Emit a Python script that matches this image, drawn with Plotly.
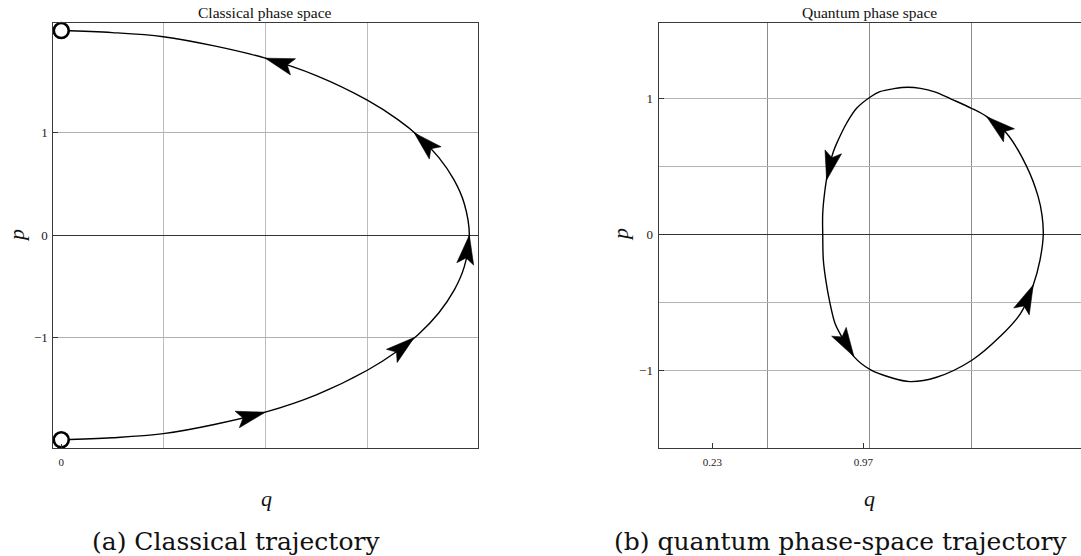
import math
import plotly.graph_objects as go

# ---- Classical trajectory (left panel) ----
classical_q = [0.00, 0.50, 1.00, 1.50, 2.00, 2.50, 3.00, 3.30, 3.50, 3.70, 3.85, 3.95, 4.00,
               3.95, 3.85, 3.70, 3.50, 3.30, 3.00, 2.50, 2.00, 1.50, 1.00, 0.50, 0.00]
classical_p = [-2.00, -1.98, -1.94, -1.85, -1.73, -1.56, -1.32, -1.13, -0.97, -0.76, -0.54, -0.31, 0.00,
               0.31, 0.54, 0.76, 0.97, 1.13, 1.32, 1.56, 1.73, 1.85, 1.94, 1.98, 2.00]

# start / end points of the classical path
endpoint_q = [0.00, 0.00]
endpoint_p = [-2.00, 2.00]

# direction arrows along the classical path (tail -> tip)
classical_arrow_tail_q = [1.73, 3.24, 3.96, 3.67, 2.29]
classical_arrow_tail_p = [-1.80, -1.18, -0.28, 0.80, 1.64]
classical_arrow_tip_q = [2.00, 3.46, 4.00, 3.46, 2.00]
classical_arrow_tip_p = [-1.73, -1.00, 0.00, 1.00, 1.73]

# ---- Quantum trajectory (right panel), closed loop ----
quantum_q = [1.852, 1.846, 1.827, 1.771, 1.672, 1.575, 1.500, 1.400, 1.320, 1.250, 1.190,
             1.120, 1.051, 1.006, 0.937, 0.888, 0.847, 0.823, 0.798, 0.782, 0.771, 0.771,
             0.774, 0.786, 0.806, 0.831, 0.855, 0.924, 1.006, 1.100, 1.199, 1.329, 1.504,
             1.640, 1.741, 1.803, 1.836, 1.852]
quantum_p = [0.000, 0.140, 0.278, 0.499, 0.744, 0.866, 0.928, 0.996, 1.048, 1.074, 1.082,
             1.072, 1.050, 1.013, 0.928, 0.818, 0.695, 0.609, 0.474, 0.327, 0.156, 0.000,
             -0.188, -0.335, -0.501, -0.653, -0.727, -0.898, -0.996, -1.050, -1.082, -1.050, -0.923,
             -0.751, -0.580, -0.371, -0.188, 0.000]

quantum_arrow_tail_q = [1.672, 0.823, 0.855, 1.741]
quantum_arrow_tail_p = [0.744, 0.609, -0.727, -0.580]
quantum_arrow_tip_q = [1.575, 0.790, 0.924, 1.803]
quantum_arrow_tip_p = [0.866, 0.400, -0.898, -0.371]

# axis ticks and grid
classical_q_ticks = [0]
classical_q_grid = [1, 2, 3]
classical_p_ticks = [-1, 0, 1]
quantum_q_ticks = [0.23, 0.97]
quantum_q_grid = [0.5, 1.0, 1.5]
quantum_p_ticks = [-1, 0, 1]
quantum_p_grid = [-0.5, 0.5]

W, H = 1081, 556
SERIF = "Liberation Serif"

# plot-area placement (pixels) and axis ranges
LEFT_X_PX = (53.4, 478.0)
RIGHT_X_PX = (658.5, 1081.0)
Y_PX = (23.4, 448.0)
LEFT_X_RANGE = [-0.077, 4.085]
LEFT_Y_RANGE = [-2.08, 2.07]
RIGHT_X_RANGE = [-0.034, 2.037]
RIGHT_Y_RANGE = [-1.570, 1.552]

# arrowhead geometry in pixels
HEAD_LEN = 29.0
HEAD_HALF_W = 8.5
HEAD_NOTCH = 6.0


def arrowheads(tail_q, tail_p, tip_q, tip_p, x_px, x_range, y_range):
    """Filled arrowhead polygons, oriented along tail->tip on screen."""
    sx = (x_px[1] - x_px[0]) / (x_range[1] - x_range[0])
    sy = (Y_PX[1] - Y_PX[0]) / (y_range[1] - y_range[0])
    xs, ys = [], []
    for a, b, c, d in zip(tail_q, tail_p, tip_q, tip_p):
        dx, dy = (c - a) * sx, (d - b) * sy
        n = math.hypot(dx, dy)
        ux, uy = dx / n, dy / n
        vx, vy = -uy, ux
        pts = [
            (0.0, 0.0),
            (-HEAD_LEN * ux + HEAD_HALF_W * vx, -HEAD_LEN * uy + HEAD_HALF_W * vy),
            (-(HEAD_LEN - HEAD_NOTCH) * ux, -(HEAD_LEN - HEAD_NOTCH) * uy),
            (-HEAD_LEN * ux - HEAD_HALF_W * vx, -HEAD_LEN * uy - HEAD_HALF_W * vy),
            (0.0, 0.0),
        ]
        for px, py in pts:
            xs.append(c + px / sx)
            ys.append(d + py / sy)
        xs.append(None)
        ys.append(None)
    return xs, ys


def head_trace(xs, ys, xa, ya):
    return go.Scatter(
        x=xs, y=ys, mode="lines", fill="toself", fillcolor="black",
        line=dict(color="black", width=0.6), xaxis=xa, yaxis=ya,
        cliponaxis=False, hoverinfo="skip",
    )


fig = go.Figure()

fig.add_trace(go.Scatter(
    x=classical_q, y=classical_p, mode="lines", xaxis="x", yaxis="y",
    line=dict(color="black", width=1.4, shape="spline", smoothing=1.0),
    cliponaxis=False,
))
hx, hy = arrowheads(classical_arrow_tail_q, classical_arrow_tail_p,
                    classical_arrow_tip_q, classical_arrow_tip_p,
                    LEFT_X_PX, LEFT_X_RANGE, LEFT_Y_RANGE)
fig.add_trace(head_trace(hx, hy, "x", "y"))
fig.add_trace(go.Scatter(
    x=endpoint_q, y=endpoint_p, mode="markers", xaxis="x", yaxis="y", cliponaxis=False,
    marker=dict(symbol="circle", size=15, color="white", opacity=1,
                line=dict(color="black", width=2.6)),
))

fig.add_trace(go.Scatter(
    x=quantum_q, y=quantum_p, mode="lines", xaxis="x2", yaxis="y2",
    line=dict(color="black", width=1.4, shape="spline", smoothing=1.0),
))
hx, hy = arrowheads(quantum_arrow_tail_q, quantum_arrow_tail_p,
                    quantum_arrow_tip_q, quantum_arrow_tip_p,
                    RIGHT_X_PX, RIGHT_X_RANGE, RIGHT_Y_RANGE)
fig.add_trace(head_trace(hx, hy, "x2", "y2"))

frame_color = "#3a3a3a"
y_dom = [(H - Y_PX[1]) / H, (H - Y_PX[0]) / H]

common_axis = dict(
    showline=True, linecolor=frame_color, linewidth=1,
    ticks="inside", ticklen=5, tickcolor="#333", tickwidth=1,
    tickfont=dict(family=SERIF, size=13, color="#222"),
    fixedrange=True,
)

fig.update_layout(
    width=W, height=H,
    margin=dict(l=0, r=0, t=0, b=0),
    paper_bgcolor="white", plot_bgcolor="white",
    showlegend=False,
    font=dict(family=SERIF, color="#222"),
    xaxis=dict(
        common_axis, domain=[LEFT_X_PX[0] / W, LEFT_X_PX[1] / W], anchor="y",
        range=LEFT_X_RANGE, tickvals=classical_q_ticks, ticklen=4,
        tickfont=dict(family=SERIF, size=11, color="#222"), ticklabelstandoff=4,
        showgrid=False, zeroline=False, mirror=True,
        minor=dict(tickvals=classical_q_grid, showgrid=True, gridcolor="#bdbdbd",
                   gridwidth=1, ticks=""),
    ),
    yaxis=dict(
        common_axis, domain=y_dom, anchor="x",
        range=LEFT_Y_RANGE, tickvals=classical_p_ticks, ticklabelstandoff=2,
        showgrid=True, gridcolor="#b0b0b0", gridwidth=1,
        zeroline=True, zerolinecolor="#333", zerolinewidth=1, mirror=True,
    ),
    xaxis2=dict(
        common_axis, domain=[RIGHT_X_PX[0] / W, RIGHT_X_PX[1] / W], anchor="y2",
        range=RIGHT_X_RANGE, tickvals=quantum_q_ticks,
        ticktext=["0.23", "0.97"], ticklabelstandoff=4,
        tickfont=dict(family=SERIF, size=11, color="#222"),
        showgrid=False, zeroline=False, mirror=True,
        minor=dict(tickvals=quantum_q_grid, showgrid=True, gridcolor="#8c8c8c",
                   gridwidth=1, ticks=""),
    ),
    yaxis2=dict(
        common_axis, domain=y_dom, anchor="x2",
        range=RIGHT_Y_RANGE, tickvals=quantum_p_ticks, ticklabelstandoff=2,
        showgrid=True, gridcolor="#b4b4b4", gridwidth=1,
        zeroline=True, zerolinecolor="#333", zerolinewidth=1, mirror=False,
        minor=dict(tickvals=quantum_p_grid, showgrid=True, gridcolor="#b4b4b4",
                   gridwidth=1, ticks=""),
    ),
)


def px_note(text, x, y, size, family=SERIF, angle=0, italic=False):
    if italic:
        text = "<i>" + text + "</i>"
    fig.add_annotation(
        text=text, x=x / W, y=1 - y / H, xref="paper", yref="paper",
        xanchor="center", yanchor="middle", showarrow=False, textangle=angle,
        font=dict(family=family, size=size, color="#111"),
    )


px_note("Classical phase space", 265, 13, 15.5)
px_note("Quantum phase space", 869.5, 13, 15.5)
px_note("q", 266, 498, 22, italic=True)
px_note("q", 869.5, 498, 22, italic=True)
px_note("p", 16, 236, 22, angle=-90, italic=True)
px_note("p", 620, 235, 22, angle=-90, italic=True)
px_note("(a) Classical trajectory", 236, 541, 25, family="DejaVu Serif")
px_note("(b) quantum phase-space trajectory", 840, 541, 25, family="DejaVu Serif")

fig.write_html("out.html")
